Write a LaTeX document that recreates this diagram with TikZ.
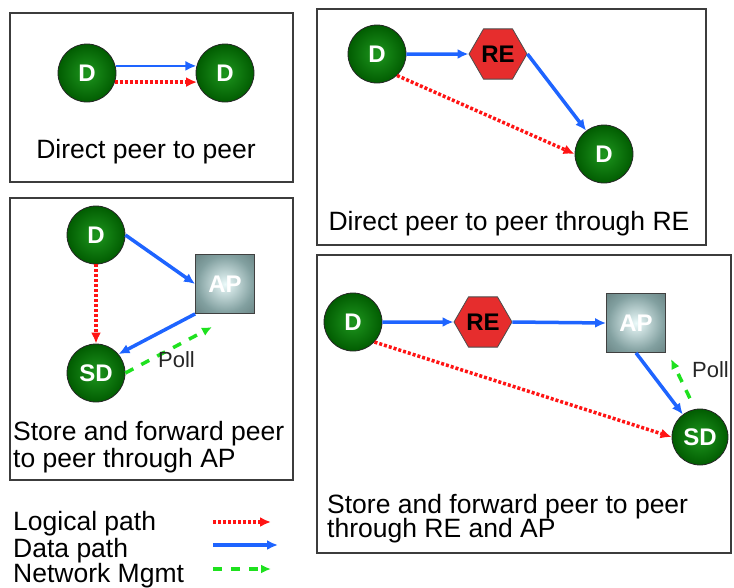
\documentclass[tikz,border=0pt]{standalone}
\usepackage{fontspec}
\setmainfont{Liberation Sans}
\usetikzlibrary{arrows.meta,shapes.geometric}

\definecolor{gIn}{RGB}{30,150,30}
\definecolor{gMid}{RGB}{0,90,0}
\definecolor{gOut}{RGB}{0,40,0}
\definecolor{apIn}{RGB}{235,250,250}
\definecolor{apMid}{RGB}{130,160,160}
\definecolor{apOut}{RGB}{75,98,98}
\definecolor{reFill}{RGB}{230,45,45}
\definecolor{dataBlue}{RGB}{30,100,255}
\definecolor{logRed}{RGB}{255,20,20}
\definecolor{mgmtGreen}{RGB}{30,225,30}
\definecolor{frameGray}{RGB}{60,60,60}

% radial fills: a 100bp shading box is fitted to the node, so 50bp is the rim
\pgfdeclareradialshading{greenball}{\pgfpoint{0bp}{0bp}}{%
  color(0bp)=(gIn); color(26bp)=(gMid); color(48bp)=(gOut); color(100bp)=(gOut)}
\pgfdeclareradialshading{apglow}{\pgfpoint{0bp}{0bp}}{%
  color(0bp)=(apIn); color(24bp)=(apMid); color(50bp)=(apOut); color(100bp)=(apOut)}

\tikzset{
  frame/.style={draw=frameGray, line width=1.2pt},
  device/.style={circle, minimum size=58pt, inner sep=0pt, shading=greenball,
    draw=black!85, line width=0.8pt, text=white, font=\fontsize{24}{24}\selectfont\bfseries},
  relay/.style={regular polygon, regular polygon sides=6, minimum size=58pt, inner sep=0pt,
    fill=reFill, draw=black!70, line width=0.8pt, text=black,
    font=\fontsize{24}{24}\selectfont\bfseries},
  apbox/.style={rectangle, minimum width=59pt, minimum height=59pt, inner sep=0pt,
    shading=apglow, draw=black!75, line width=0.8pt, text=white,
    font=\fontsize{24}{24}\selectfont\bfseries},
  caption/.style={inner sep=0pt, font=\fontsize{26.5}{27}\selectfont, text=black},
  polltext/.style={inner sep=0pt, font=\fontsize{22}{22}\selectfont, text=black!85},
  datapath/.style={draw=dataBlue, line width=3.5pt, -{Latex[length=11pt,width=10pt]}},
  logpath/.style={draw=logRed, line width=3.5pt, dash pattern=on 3pt off 2pt,
    -{Latex[length=11pt,width=10pt]}},
  mgmtpath/.style={draw=mgmtGreen, line width=3.5pt, dash pattern=on 9pt off 9pt,
    -{Latex[length=10pt,width=9pt]}}
}

\begin{document}
\begin{tikzpicture}[x=1pt,y=-1pt]
\useasboundingbox (0,0) rectangle (734,587);

% ---- Direct peer to peer ----
\draw[frame] (10,13) rectangle (293,182);
\node[device] (a1) at (87,73) {D};
\node[device] (a2) at (225,73) {D};
\draw[datapath, line width=2.6pt] (a1.14) -- (a2.166);
\draw[logpath] (a1.-18) -- (a2.198);
\node[caption, anchor=base] (capA) at (146,158) {Direct peer to peer};

% ---- Direct peer to peer through RE ----
\draw[frame] (317,9) rectangle (706,245);
\node[device] (b1) at (377,54) {D};
\node[relay] (bre) at (498,54) {RE};
\node[device] (b2) at (604,154) {D};
\draw[datapath] (b1.east) -- (bre.west);
\draw[datapath] (bre.east) -- (b2);
\draw[logpath] (b1.-47) -- (b2.west);
\node[caption, anchor=base] (capB) at (509,230) {Direct peer to peer through RE};

% ---- Store and forward peer to peer through AP ----
\draw[frame] (10,198) rectangle (293,480);
\node[device] (c1) at (96,235) {D};
\node[apbox] (cap) at (225,284) {AP};
\node[device] (csd) at (96,373) {SD};
\draw[datapath] (c1.east) -- (cap.west);
\draw[datapath] (cap.south west) -- (csd.40);
\draw[logpath] (c1.south) -- (csd.north);
\coordinate (cpoll) at (212,327);
\draw[mgmtpath] (csd.east) -- (cpoll);
\node[polltext, anchor=base west] (cpl) at (158,367) {Poll};
\node[caption, anchor=base west] (capC1) at (13,440) {Store and forward peer};
\node[caption, anchor=base west] (capC2) at (13,467) {to peer through AP};

% ---- Store and forward peer to peer through RE and AP ----
\draw[frame] (317,255) rectangle (731,553);
\node[device] (d1) at (353,322) {D};
\node[relay] (dre) at (483,322) {RE};
\node[apbox] (dap) at (636,323) {AP};
\node[device, minimum size=56pt] (dsd) at (700,437) {SD};
\draw[datapath] (d1.east) -- (dre.west);
\draw[datapath] (dre.east) -- (dap.west);
\draw[datapath] (dap.south) -- (dsd);
\draw[logpath] (d1.-43) -- (dsd.west);
\coordinate (dpoll) at (671,359);
\draw[mgmtpath, shorten <=12pt] (dsd.100) -- (dpoll);
\node[polltext, anchor=base west] (dpl) at (692,377) {Poll};
\node[caption, anchor=base west] (capD1) at (327,513) {Store and forward peer to peer};
\node[caption, anchor=base west] (capD2) at (327,537) {through RE and AP};

% ---- Legend ----
\node[caption, anchor=base west] (lg1) at (13,530) {Logical path};
\node[caption, anchor=base west] (lg2) at (13,557) {Data path};
\node[caption, anchor=base west] (lg3) at (13,582) {Network Mgmt};
\coordinate (l1a) at (213,522); \coordinate (l1b) at (271,522);
\coordinate (l2a) at (213,545); \coordinate (l2b) at (278,545);
\coordinate (l3a) at (213,569); \coordinate (l3b) at (271,569);
\draw[logpath] (l1a) -- (l1b);
\draw[datapath] (l2a) -- (l2b);
\draw[mgmtpath] (l3a) -- (l3b);
\end{tikzpicture}
\end{document}
